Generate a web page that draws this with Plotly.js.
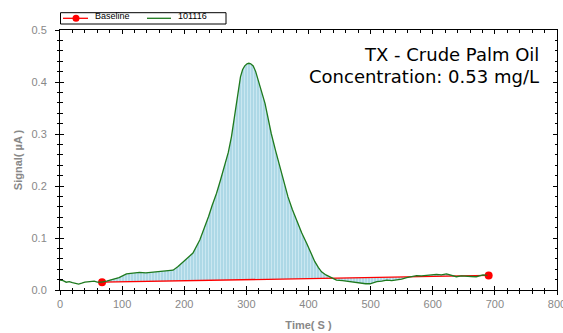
<!DOCTYPE html>
<html>
<head>
<meta charset="utf-8">
<script src="https://cdn.plot.ly/plotly-3.0.1.min.js"></script>
<style>html,body{margin:0;padding:0;background:#fff;}#chart{width:563px;height:333px;}</style>
</head>
<body>
<div id="chart"></div>
<script>
// Signal trace "101116" (time in s, signal in µA)
const timeS = [0,5,10,15,20,25,30,35,40,48,55,60,67,75,85,95,107,118,128,138,150,160,171,182,190,198,206,214,225,232,239,245,252,258,265,271,276,280,284,287,290.5,294,297.4,301,304,307,311,315,319,324,330,335,340,347,354,360,367,374,381,389,397,404,410,416,421,428,434,445,455,466,475,483,492,499,505,510,518,526,534,542,550,558,566,574,582,590,598,606,614,622,630,638,646,654,662,670,676,681,688];
const signal = [0.019,0.018,0.015,0.016,0.014,0.012,0.0115,0.013,0.015,0.016,0.017,0.015,0.015,0.017,0.021,0.024,0.031,0.032,0.034,0.033,0.034,0.035,0.036,0.038,0.045,0.054,0.062,0.071,0.096,0.118,0.141,0.163,0.186,0.21,0.237,0.265,0.295,0.328,0.359,0.385,0.41,0.424,0.431,0.435,0.436,0.435,0.431,0.42,0.404,0.382,0.359,0.33,0.301,0.268,0.237,0.208,0.179,0.155,0.133,0.11,0.09,0.072,0.055,0.043,0.035,0.029,0.025,0.019,0.018,0.016,0.014,0.013,0.012,0.012,0.014,0.016,0.017,0.019,0.018,0.019,0.021,0.024,0.026,0.0275,0.027,0.0275,0.029,0.030,0.029,0.031,0.028,0.0255,0.027,0.027,0.026,0.0255,0.027,0.029,0.028];
// Baseline end points
const baseX = [67.7, 690];
const baseY = [0.015, 0.028];
const seriesNames = ["Baseline", "101116"];
const titleLines = ["TX - Crude Palm Oil", "Concentration: 0.53 mg/L"];
const xTicks = [0,100,200,300,400,500,600,700,800];
const yTicks = [0,0.1,0.2,0.3,0.4,0.5];
const yTickText = ['0.0','0.1','0.2','0.3','0.4','0.5'];

const RED = '#ff0000', GREEN = '#1e7a1e';

const segX = [], segY = [];
for (let i = 0; i < timeS.length; i++) {
  if (timeS[i] >= baseX[0] && timeS[i] <= baseX[1]) { segX.push(timeS[i]); segY.push(signal[i]); }
}
segX.unshift(baseX[0]); segY.unshift(baseY[0]);
segX.push(baseX[1]); segY.push(baseY[1]);

const traces = [
  {x: baseX, y: baseY, mode: 'lines', line: {width: 0, color: 'rgba(0,0,0,0)'}, hoverinfo: 'skip'},
  {x: segX, y: segY, mode: 'lines', line: {width: 0, color: 'rgba(0,0,0,0)'}, fill: 'tonexty',
   fillcolor: '#add8e6', fillpattern: {shape: '|', bgcolor: '#add8e6', fgcolor: '#d4ecf4', size: 3, solidity: 0.25},
   hoverinfo: 'skip'},
  {x: baseX, y: baseY, name: seriesNames[0], mode: 'lines+markers', line: {color: RED, width: 1.3},
   marker: {color: RED, size: 8}},
  {x: timeS, y: signal, name: seriesNames[1], mode: 'lines', line: {color: GREEN, width: 1.3}},
  {x: [0], y: [0], xaxis: 'x2', yaxis: 'y2', mode: 'markers', marker: {opacity: 0}, hoverinfo: 'skip'}
];

const fam = 'Liberation Sans, Arial, sans-serif';
const axFont = {family: fam, size: 11, color: '#888'};

// legend drawn in paper coordinates (plot area: 497 px wide, 260 px tall)
const W = 497, H = 260;
const px = v => (v - 60) / W;
const py = v => (290 - v) / H;
const legShapes = [
  {type: 'rect', xref: 'paper', yref: 'paper', x0: px(60.5), x1: px(226), y0: py(24), y1: py(12.7),
   line: {color: '#000', width: 1}, fillcolor: '#fff'},
  {type: 'line', xref: 'paper', yref: 'paper', x0: px(63), x1: px(88), y0: py(18.3), y1: py(18.3), line: {color: RED, width: 1.3}},
  {type: 'circle', xref: 'paper', yref: 'paper', x0: px(72.5), x1: px(79.5), y0: py(21.8), y1: py(14.8), line: {color: RED, width: 0}, fillcolor: RED},
  {type: 'line', xref: 'paper', yref: 'paper', x0: px(147), x1: px(171), y0: py(18.3), y1: py(18.3), line: {color: GREEN, width: 1.3}}
];
const legFont = {family: fam, size: 9, color: '#000'};

const layout = {
  width: 563, height: 333,
  margin: {l: 60, r: 6, t: 30, b: 43},
  paper_bgcolor: '#fff', plot_bgcolor: '#fff',
  font: axFont,
  showlegend: false,
  xaxis: {range: [0, 800], tickvals: xTicks, ticks: 'outside', ticklen: 4, tickcolor: '#000',
    minor: {dtick: 20, ticks: 'outside', ticklen: 2.5, tickcolor: '#000'}, ticklabeloverflow: 'allow',
    showline: true, linecolor: '#000', linewidth: 1, showgrid: false, zeroline: false, tickfont: axFont,
    title: {text: '<b>Time( S )</b>', font: {family: fam, size: 11, color: '#888'}, standoff: 12}},
  yaxis: {range: [0, 0.5], tickvals: yTicks, ticktext: yTickText,
    ticks: 'outside', ticklen: 4, tickcolor: '#000', ticklabelstandoff: 6,
    minor: {dtick: 0.02, ticks: 'outside', ticklen: 2.5, tickcolor: '#000'},
    showline: true, linecolor: '#000', linewidth: 1, showgrid: false, zeroline: false, tickfont: axFont,
    title: {text: '<b>Signal( µA )</b>', font: {family: fam, size: 11, color: '#888'}, standoff: 6}},
  xaxis2: {overlaying: 'x', matches: 'x', range: [0, 800], dtick: 100, ticks: 'inside', ticklen: 4, tickcolor: '#000',
    minor: {dtick: 20, ticks: 'inside', ticklen: 2.5, tickcolor: '#000'},
    showline: true, linecolor: '#000', mirror: 'ticks', showticklabels: false, showgrid: false, zeroline: false},
  yaxis2: {overlaying: 'y', matches: 'y', range: [0, 0.5], dtick: 0.1, ticks: 'inside', ticklen: 4, tickcolor: '#000',
    minor: {dtick: 0.02, ticks: 'inside', ticklen: 2.5, tickcolor: '#000'},
    showline: true, linecolor: '#000', mirror: 'ticks', showticklabels: false, showgrid: false, zeroline: false},
  shapes: legShapes,
  annotations: [
    {xref: 'paper', yref: 'paper', x: px(541), y: 0.906, xanchor: 'right', yanchor: 'middle', showarrow: false,
     text: titleLines[0], font: {family: 'DejaVu Sans, Verdana, sans-serif', size: 18, color: '#000'}},
    {xref: 'paper', yref: 'paper', x: px(541), y: 0.821, xanchor: 'right', yanchor: 'middle', showarrow: false,
     text: titleLines[1], font: {family: 'DejaVu Sans, Verdana, sans-serif', size: 18, color: '#000'}},
    {xref: 'paper', yref: 'paper', x: px(94), y: py(16.5), xanchor: 'left', yanchor: 'middle', showarrow: false,
     text: seriesNames[0], font: legFont, borderpad: 0},
    {xref: 'paper', yref: 'paper', x: px(177), y: py(16.5), xanchor: 'left', yanchor: 'middle', showarrow: false,
     text: seriesNames[1], font: legFont, borderpad: 0}
  ]
};
Plotly.newPlot('chart', traces, layout, {displayModeBar: false, staticPlot: true});
</script>
</body>
</html>
